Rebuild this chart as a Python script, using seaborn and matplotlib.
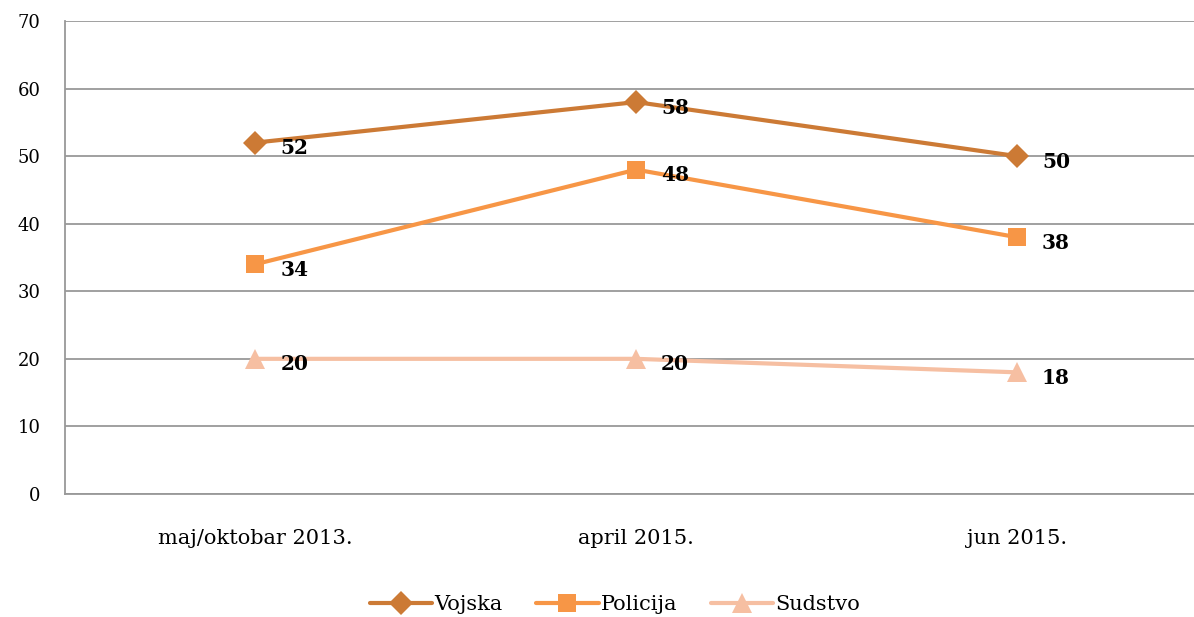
import pandas as pd
import seaborn as sns
import matplotlib.pyplot as plt
from matplotlib.lines import Line2D

# podaci
kategorije = ['maj/oktobar 2013.', 'april 2015.', 'jun 2015.']
vojska = [52, 58, 50]
policija = [34, 48, 38]
sudstvo = [20, 20, 18]

serije = {'Vojska': vojska, 'Policija': policija, 'Sudstvo': sudstvo}
boje = {'Vojska': '#CC7A35', 'Policija': '#F79646', 'Sudstvo': '#F6BFA2'}
markeri = {'Vojska': 'D', 'Policija': 's', 'Sudstvo': '^'}
velicine = {'D': 12.5, 's': 13.5, '^': 15}

rows = []
for ime, vals in serije.items():
    for i, v in enumerate(vals):
        rows.append({'x': i, 'vrijednost': v, 'serija': ime})
df = pd.DataFrame(rows)

sns.set_style('white')
plt.rcParams['font.family'] = ['DejaVu Serif']
plt.rcParams['text.color'] = 'black'
plt.rcParams['xtick.color'] = 'black'
plt.rcParams['ytick.color'] = 'black'

fig = plt.figure(figsize=(11.94, 6.17), dpi=100)
ax = fig.add_axes([0.0544, 0.1994, 0.9456, 0.7666])

sns.lineplot(data=df, x='x', y='vrijednost', hue='serija', style='serija',
             palette=boje, markers=markeri, dashes=False, linewidth=3,
             markersize=13, markeredgewidth=0, ax=ax, legend=False)
for ln in ax.lines:
    m = ln.get_marker()
    if m in velicine:
        ln.set_markersize(velicine[m])

# oznake vrijednosti
for ime, vals in serije.items():
    for i, v in enumerate(vals):
        ax.annotate(str(v), (i, v), xytext=(18, -4), textcoords='offset points',
                    ha='left', va='center', fontsize=14.5, fontweight='bold',
                    color='black')

ax.set_xlim(-0.5, 2.465)
ax.set_ylim(0, 70)
ax.set_yticks(range(0, 71, 10))
ax.set_xticks(range(len(kategorije)))
ax.set_xticklabels(kategorije, fontsize=15)
ax.tick_params(axis='y', labelsize=13, pad=14, colors='black')
ax.tick_params(axis='x', pad=22, colors='black')
ax.set_xlabel('')
ax.set_ylabel('')
ax.yaxis.grid(True, color='#999999', linewidth=1.3)
ax.set_axisbelow(True)
for s in ['top', 'right']:
    ax.spines[s].set_visible(False)
for s in ['left', 'bottom']:
    ax.spines[s].set_color('#999999')
    ax.spines[s].set_linewidth(1.3)

# legenda
handles = [Line2D([], [], color=boje[k], marker=markeri[k], linewidth=3,
                  markersize=velicine[markeri[k]] - 0.5, markeredgewidth=0)
           for k in serije]
fig.legend(handles, list(serije), loc='center', bbox_to_anchor=(0.515, 0.02),
           ncol=3, frameon=False, fontsize=15, handlelength=3.0,
           columnspacing=1.6, handletextpad=0.1)

fig.savefig('out.png', dpi=100)
